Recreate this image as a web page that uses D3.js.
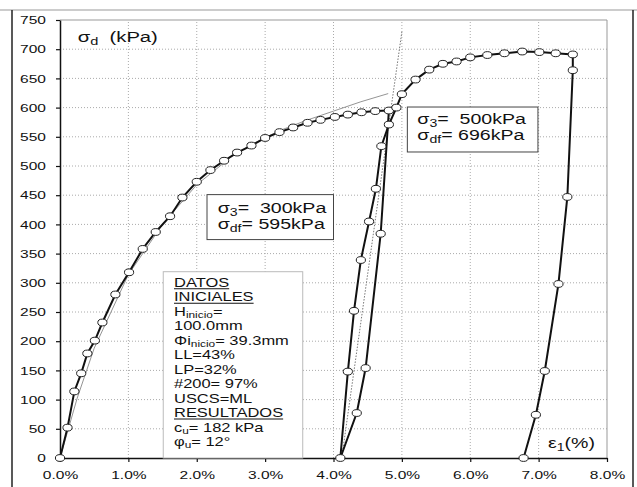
<!DOCTYPE html>
<meta charset="utf-8">
<script src="https://d3js.org/d3.v7.min.js"></script>
<style>
  body { margin: 0; background: #fff; }
  text { font-family: "Liberation Sans", Arial, sans-serif; fill: #111; }
</style>
<div id="chart"></div>
<script>

// strain e1 (%) and deviator stress (kPa)
var loadA   = [[0,0],[0.11,52],[0.21,114],[0.31,145],[0.40,179],[0.51,201],[0.62,232],[0.81,280],
               [1.01,318],[1.21,358],[1.40,387],[1.61,414],[1.79,446],[2.0,473],[2.2,493],[2.4,509],
               [2.59,523],[2.80,535],[3.0,548],[3.21,558],[3.41,566],[3.62,574],[3.81,579],[4.02,584],
               [4.21,588],[4.41,592],[4.61,594],[4.81,595]];
var unloadA = [[4.81,595],[4.69,384],[4.47,154],[4.34,77],[4.10,0]];
var loadB   = [[4.10,0],[4.21,148],[4.30,252],[4.40,339],[4.52,405],[4.62,461],[4.70,534],[4.81,571],
               [4.92,600],[5.0,623],[5.20,648],[5.40,665],[5.60,675],[5.80,679],[6.0,686],[6.25,690],
               [6.50,693],[6.76,696],[7.01,695],[7.25,693],[7.50,691]];
var unloadB = [[7.50,691],[7.50,664],[7.42,447],[7.29,298],[7.09,149],[6.96,74],[6.78,0]];

// thin fitted curve and the dotted modulus line
var fitA    = [[0,0],[0.25,102],[0.5,188],[1.0,314],[1.5,400],[2.0,468],[2.5,515],[2.8,537],
               [3.2,560],[3.6,578],[4.0,594],[4.4,610],[4.8,624]];
var modB    = [[4.12,0],[5.0,730]];

var xTicks = [0,1,2,3,4,5,6,7,8];
var yTicks = [0,50,100,150,200,250,300,350,400,450,500,550,600,650,700,750];

var width = 637, height = 487;
var K = 1.35;   // the picture is stretched sideways, text too

var svg = d3.select("#chart").append("svg")
    .attr("width", width)
    .attr("height", height);

var x = d3.scaleLinear().domain([0, 8]).range([60, 607]);
var y = d3.scaleLinear().domain([0, 750]).range([458, 20]);

// outer frame
svg.append("line").attr("x1", 0).attr("x2", width).attr("y1", 10).attr("y2", 10)
  .attr("stroke", "#999");
svg.append("line").attr("x1", 12).attr("x2", 12).attr("y1", 10).attr("y2", height)
  .attr("stroke", "#222").attr("stroke-width", 1.5);
svg.append("line").attr("x1", 633).attr("x2", 633).attr("y1", 10).attr("y2", height)
  .attr("stroke", "#222").attr("stroke-width", 1.5);

// grid
svg.append("g").selectAll("line")
  .data(xTicks.slice(1, -1))
  .enter().append("line")
    .attr("x1", function(d) { return x(d); })
    .attr("x2", function(d) { return x(d); })
    .attr("y1", y(0)).attr("y2", y(750))
    .attr("stroke", "#aaa").attr("stroke-dasharray", "1,2");
svg.append("g").selectAll("line")
  .data(yTicks.slice(1, -1))
  .enter().append("line")
    .attr("x1", x(0)).attr("x2", x(8))
    .attr("y1", function(d) { return y(d); })
    .attr("y2", function(d) { return y(d); })
    .attr("stroke", "#aaa").attr("stroke-dasharray", "1,2");

// plot border top / right
svg.append("path")
  .attr("d", "M" + x(0) + "," + y(750) + "H" + x(8) + "V" + y(0))
  .attr("fill", "none").attr("stroke", "#999");

// axes
var yAxis = svg.append("g")
  .attr("transform", "translate(" + x(0) + ",0)")
  .call(d3.axisLeft(y).tickValues(yTicks).tickSize(4).tickSizeOuter(0).tickPadding(10));
var xAxis = svg.append("g")
  .attr("transform", "translate(0," + y(0) + ")")
  .call(d3.axisBottom(x).tickValues(xTicks).tickSize(4).tickSizeOuter(0).tickPadding(9)
        .tickFormat(function(d) { return d.toFixed(1) + "%"; }));

[yAxis, xAxis].forEach(function(a) {
  a.select(".domain").attr("stroke", "#111").attr("stroke-width", 1.5);
  a.selectAll(".tick line").attr("stroke", "#111").attr("stroke-width", 1.2);
  a.selectAll("text")
    .attr("font-size", 11.5)
    .attr("font-family", "Liberation Sans, Arial, sans-serif")
    .attr("fill", "#111")
    .attr("transform", "scale(" + K + ",1)");
});
yAxis.selectAll("text").attr("x", -14 / K);

// helper lines
var line = d3.line()
  .x(function(d) { return x(d[0]); })
  .y(function(d) { return y(d[1]); });

svg.append("path").datum(fitA).attr("d", line)
  .attr("fill", "none").attr("stroke", "#666").attr("stroke-width", 0.7);
svg.append("path").datum(modB).attr("d", line)
  .attr("fill", "none").attr("stroke", "#777").attr("stroke-width", 1).attr("stroke-dasharray", "1.5,1.5");

// test curves
[loadA, unloadA, loadB, unloadB].forEach(function(s) {
  svg.append("path").datum(s).attr("d", line)
    .attr("fill", "none").attr("stroke", "#111").attr("stroke-width", 2);
});

svg.append("g").selectAll("ellipse")
  .data(loadA.concat(unloadA.slice(1), loadB.slice(1), unloadB.slice(1)))
  .enter().append("ellipse")
    .attr("cx", function(d) { return x(d[0]); })
    .attr("cy", function(d) { return y(d[1]); })
    .attr("rx", 4.6).attr("ry", 3.4)
    .attr("fill", "#fff").attr("stroke", "#222").attr("stroke-width", 1);

// text with subscripts, stretched like the picture
function label(px, py, parts, size, underline) {
  var wrap = svg.append("g").attr("transform", "translate(" + px + "," + py + ") scale(" + K + ",1)");
  var t = wrap.append("text").attr("font-size", size).style("white-space", "pre");
  var shift = 0;
  parts.forEach(function(p) {
    var sub = Array.isArray(p);
    var target = sub ? size * 0.2 : 0;
    t.append("tspan")
      .attr("dy", target - shift)
      .attr("font-size", sub ? size * 0.72 : size)
      .text(sub ? p[0] : p);
    shift = target;
  });
  if (underline) {
    wrap.append("line").attr("x1", 0).attr("x2", t.node().getComputedTextLength())
      .attr("y1", 2).attr("y2", 2).attr("stroke", "#111").attr("stroke-width", 1);
  }
}

function box(x0, y0, x1, y1, color) {
  svg.append("rect")
    .attr("x", x(x0)).attr("y", y(y0))
    .attr("width", x(x1) - x(x0)).attr("height", y(y1) - y(y0))
    .attr("fill", "#fff").attr("stroke", color).attr("stroke-width", 1);
}

label(77.7, 42, ["σ", ["d"], "  (kPa)"], 15);
label(548, 448, ["ε", ["1"], "(%)"], 14.5);

box(2.15, 451, 4.0, 374, "#444");
label(217.7, 213.3, ["σ", ["3"], "=  300kPa"], 14.5);
label(217.7, 229.3, ["σ", ["df"], "= 595kPa"], 14.5);

box(5.08, 601, 6.99, 524, "#444");
label(417.3, 124, ["σ", ["3"], "=  500kPa"], 14.5);
label(417.3, 140, ["σ", ["df"], "= 696kPa"], 14.5);

box(1.51, 319, 3.55, 0, "#bbb");
var notes = [
  [["DATOS"], true],
  [["INICIALES"], true],
  [["H", ["inicio"], "="], false],
  [["100.0mm"], false],
  [["Φi", ["nicio"], "= 39.3mm"], false],
  [["LL=43%"], false],
  [["LP=32%"], false],
  [["#200= 97%"], false],
  [["USCS=ML"], false],
  [["RESULTADOS"], true],
  [["c", ["u"], "= 182 kPa"], false],
  [["φ", ["u"], "= 12°"], false]
];
notes.forEach(function(n, i) {
  label(174, 286.7 + i * 14.48, n[0], 12.2, n[1]);
});

</script>
